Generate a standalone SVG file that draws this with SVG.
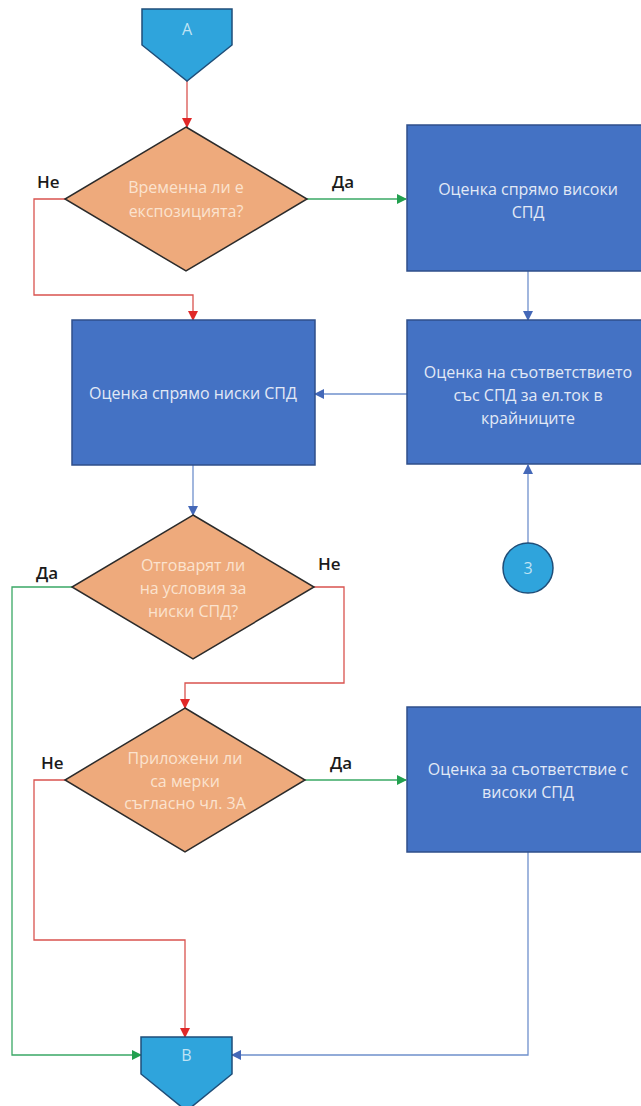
<svg xmlns="http://www.w3.org/2000/svg" width="641" height="1106" viewBox="0 0 641 1106">
<defs>
<style>
.conn{fill:#2fa4dc;stroke:#1f4e79;stroke-width:1.5}
.box{fill:#4472c4;stroke:#2f4f8a;stroke-width:1.5}
.dia{fill:#eeaa7c;stroke:#2b2b2b;stroke-width:1.5}
.t{font-family:"Open Sans","Liberation Sans",sans-serif;font-size:16px;text-anchor:middle}
.tb{fill:#e2e9f6}
.td{fill:#fbe3cf}
.tc{fill:#bfe3f4}
.lbl{font-family:"Open Sans","Liberation Sans",sans-serif;font-size:17px;font-weight:600;fill:#1a1a1a}
.r{fill:none;stroke:#d9534f;stroke-width:1.3}
.g{fill:none;stroke:#3aa865;stroke-width:1.3}
.b{fill:none;stroke:#6f90cc;stroke-width:1.3}
</style>
<marker id="ar" markerWidth="10" markerHeight="10" refX="9" refY="5" orient="auto" markerUnits="userSpaceOnUse"><path d="M0,0 L10,5 L0,10 z" fill="#e02828"/></marker>
<marker id="ag" markerWidth="10" markerHeight="10" refX="9" refY="5" orient="auto" markerUnits="userSpaceOnUse"><path d="M0,0 L10,5 L0,10 z" fill="#22a04f"/></marker>
<marker id="ab" markerWidth="10" markerHeight="10" refX="9" refY="5" orient="auto" markerUnits="userSpaceOnUse"><path d="M0,0 L10,5 L0,10 z" fill="#4468b8"/></marker>
</defs>
<rect width="641" height="1106" fill="#ffffff"/>
<g id="connectors">
<path class="r" d="M187,81 V127" marker-end="url(#ar)"/>
<path class="r" d="M65,199 H34 V295 H193 V320" marker-end="url(#ar)"/>
<path class="g" d="M307,199 H406" marker-end="url(#ag)"/>
<path class="b" d="M528,271 V320" marker-end="url(#ab)"/>
<path class="b" d="M407,394 H315" marker-end="url(#ab)"/>
<path class="b" d="M528,543 V465" marker-end="url(#ab)"/>
<path class="b" d="M193,465 V515" marker-end="url(#ab)"/>
<path class="g" d="M72,587 H12 V1055 H141" marker-end="url(#ag)"/>
<path class="r" d="M314,587 H344 V683 H185 V708" marker-end="url(#ar)"/>
<path class="g" d="M305,780 H406" marker-end="url(#ag)"/>
<path class="r" d="M65,780 H34 V940 H185 V1037" marker-end="url(#ar)"/>
<path class="b" d="M528,852 V1055 H232" marker-end="url(#ab)"/>
</g>
<g id="A">
<path class="conn" d="M142,9 H232 V45 L187,81 L142,45 Z"/>
<text class="t tc" x="187" y="35">A</text>
</g>
<g id="d1">
<path class="dia" d="M186,127 L307,199 L186,271 L65,199 Z"/>
<text class="t td" x="186" y="193">Временна ли е</text>
<text class="t td" x="186" y="217">експозицията?</text>
</g>
<g id="l1"><text class="lbl" x="37" y="188">Не</text><text class="lbl" x="332" y="188">Да</text></g>
<g id="box1">
<rect class="box" x="407" y="125" width="242" height="146"/>
<text class="t tb" x="528" y="195">Оценка спрямо високи</text>
<text class="t tb" x="528" y="218">СПД</text>
</g>
<g id="box2">
<rect class="box" x="72" y="320" width="243" height="145"/>
<text class="t tb" x="193" y="399">Оценка спрямо ниски СПД</text>
</g>
<g id="box3">
<rect class="box" x="407" y="320" width="242" height="144"/>
<text class="t tb" x="528" y="378">Оценка на съответствието</text>
<text class="t tb" x="528" y="401">със СПД за ел.ток в</text>
<text class="t tb" x="528" y="424">крайниците</text>
</g>
<g id="c3">
<circle class="conn" cx="528" cy="568" r="25"/>
<text class="t tc" x="528" y="574">3</text>
</g>
<g id="d2">
<path class="dia" d="M193,515 L314,587 L193,659 L72,587 Z"/>
<text class="t td" x="193" y="571">Отговарят ли</text>
<text class="t td" x="193" y="594">на условия за</text>
<text class="t td" x="193" y="617">ниски СПД?</text>
</g>
<g id="l2"><text class="lbl" x="36" y="579">Да</text><text class="lbl" x="318" y="570">Не</text></g>
<g id="d3">
<path class="dia" d="M185,708 L305,780 L185,852 L65,780 Z"/>
<text class="t td" x="185" y="764">Приложени ли</text>
<text class="t td" x="185" y="787">са мерки</text>
<text class="t td" x="185" y="809">съгласно чл. 3А</text>
</g>
<g id="l3"><text class="lbl" x="41" y="769">Не</text><text class="lbl" x="330" y="769">Да</text></g>
<g id="box4">
<rect class="box" x="407" y="707" width="242" height="145"/>
<text class="t tb" x="528" y="775">Оценка за съответствие с</text>
<text class="t tb" x="528" y="798">високи СПД</text>
</g>
<g id="B">
<path class="conn" d="M141,1037 H232 V1074 L186.5,1111 L141,1074 Z"/>
<text class="t tc" x="186.5" y="1061">B</text>
</g>
</svg>
